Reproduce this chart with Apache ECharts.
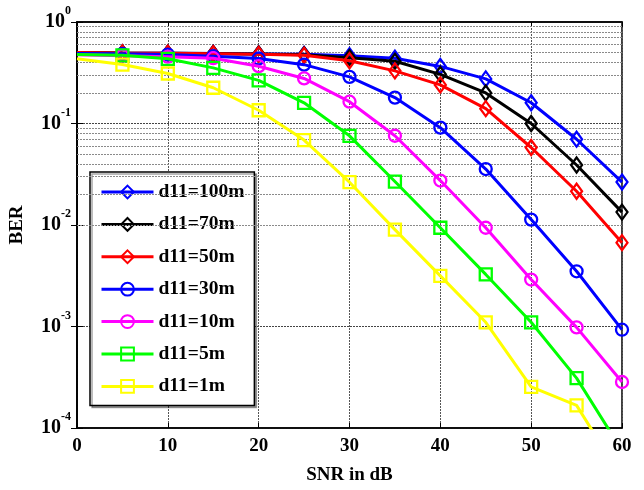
<!DOCTYPE html>
<html>
<head>
<meta charset="utf-8">
<script src="https://cdn.jsdelivr.net/npm/echarts@6/dist/echarts.min.js"></script>
<style>html,body{margin:0;padding:0;background:#fff}#c{width:644px;height:490px}</style>
</head>
<body>
<div id="c"></div>
<script>
// ---- data ----
const snr = [0, 5, 10, 15, 20, 25, 30, 35, 40, 45, 50, 55, 60];
const seriesNames = ['d11=100m', 'd11=70m', 'd11=50m', 'd11=30m', 'd11=10m', 'd11=5m', 'd11=1m'];
const ber100 = [0.5, 0.495, 0.493, 0.49, 0.485, 0.48, 0.465, 0.44, 0.365, 0.275, 0.16, 0.07, 0.0265];
const ber70  = [0.5, 0.495, 0.493, 0.49, 0.485, 0.475, 0.445, 0.41, 0.305, 0.2, 0.1, 0.039, 0.0134];
const ber50  = [0.5, 0.495, 0.493, 0.488, 0.48, 0.47, 0.415, 0.33, 0.24, 0.14, 0.058, 0.0215, 0.0067];
const ber30  = [0.49, 0.486, 0.478, 0.46, 0.437, 0.38, 0.288, 0.18, 0.091, 0.0356, 0.0113, 0.0035, 0.00093];
const ber10  = [0.475, 0.465, 0.455, 0.44, 0.367, 0.278, 0.164, 0.0757, 0.0274, 0.0094, 0.0029, 0.00098, 0.000284];
const ber5   = [0.478, 0.47, 0.434, 0.353, 0.266, 0.16, 0.0756, 0.0268, 0.0094, 0.00326, 0.0011, 0.00031, 0.00006];
const ber1   = [0.434, 0.381, 0.311, 0.225, 0.135, 0.0686, 0.0264, 0.009, 0.00315, 0.0011, 0.000254, 0.000167, 0.000032];
const xTicks = [0, 10, 20, 30, 40, 50, 60];
const yDecades = [1e-4, 1e-3, 1e-2, 1e-1, 1];
const minorMult = [2, 3, 4, 5, 6, 7, 8, 9];

// ---- styles ----
const colors = ['#0000ff', '#000000', '#ff0000', '#0000ff', '#ff00ff', '#00ff00', '#ffff00'];
const symbols = ['diamond', 'diamond', 'diamond', 'circle', 'circle', 'rect', 'rect'];
const sizes = [[11, 15], [11, 15], [11, 15], 12, 12, 12, 12];
const allBer = [ber100, ber70, ber50, ber30, ber10, ber5, ber1];
const FONT = '"Liberation Serif", "Times New Roman", serif';

const minorLines = [];
yDecades.slice(0, -1).forEach(d => minorMult.forEach(m => minorLines.push({ yAxis: d * m })));

const series = allBer.map((vals, k) => {
  const s = {
    name: seriesNames[k],
    type: 'line',
    xAxisIndex: 0, yAxisIndex: 0,
    data: snr.map((x, i) => i === 0 ? { value: [x, vals[i]], symbol: 'none' } : [x, vals[i]]),
    symbol: symbols[k],
    symbolSize: sizes[k],
    showSymbol: true,
    clip: true,
    lineStyle: { color: colors[k], width: 3 },
    itemStyle: { color: 'rgba(255,255,255,0)', borderColor: colors[k], borderWidth: 2.3 },
    emphasis: { disabled: true },
    z: 10 + k,
    animation: false
  };
  if (k === 0) {
    s.markLine = {
      silent: true, symbol: 'none', animation: false,
      label: { show: false },
      lineStyle: { color: '#8a8a8a', type: [2, 1], width: 1 },
      emphasis: { disabled: true },
      data: minorLines
    };
  }
  return s;
});

const chart = echarts.init(document.getElementById('c'), null, { renderer: 'canvas' });
const yLabelFmt = v => {
  const e = Math.round(Math.log10(v));
  return '{b|10}{e|' + e + '}';
};
chart.setOption({
  animation: false,
  backgroundColor: '#ffffff',
  grid: { left: 76, right: 22, top: 22, bottom: 60, show: true, borderColor: '#000', borderWidth: 1.5, backgroundColor: 'transparent' },
  legend: {
    data: seriesNames,
    orient: 'vertical',
    left: 90, top: 172,
    padding: [10, 10, 9, 10],
    itemWidth: 52, itemHeight: 16, itemGap: 12.4,
    backgroundColor: '#fff',
    borderColor: '#000', borderWidth: 1.5, borderRadius: 0,
    shadowColor: 'rgba(0,0,0,0.35)', shadowOffsetX: 2, shadowOffsetY: 2, shadowBlur: 0,
    lineStyle: { width: 3 },
    textStyle: { fontFamily: FONT, fontWeight: 'bold', fontSize: 19.5, color: '#000', lineHeight: 20 },
    selectedMode: false
  },
  xAxis: [{
    type: 'value', min: 0, max: 60, interval: 10,
    position: 'bottom',
    name: 'SNR in dB', nameLocation: 'middle', nameGap: 38,
    nameTextStyle: { fontFamily: FONT, fontWeight: 'bold', fontSize: 19, color: '#000' },
    axisLine: { show: true, lineStyle: { color: '#000', width: 1.5 } },
    axisTick: { show: true, inside: true, length: 5, lineStyle: { color: '#000' } },
    axisLabel: { fontFamily: FONT, fontWeight: 'bold', fontSize: 19, color: '#000', margin: 9 },
    splitLine: { show: true, lineStyle: { color: '#555', type: [2, 1], width: 1 } }
  }, {
    type: 'value', min: 0, max: 60, interval: 10,
    position: 'top',
    axisLine: { show: true, lineStyle: { color: '#000', width: 1.5 } },
    axisTick: { show: true, inside: true, length: 5, lineStyle: { color: '#000' } },
    axisLabel: { show: false },
    splitLine: { show: false }
  }],
  yAxis: [{
    type: 'log', logBase: 10, min: 1e-4, max: 1, splitNumber: 4,
    position: 'left',
    name: 'BER', nameLocation: 'middle', nameGap: 50, nameRotate: 90,
    nameTextStyle: { fontFamily: FONT, fontWeight: 'bold', fontSize: 19, color: '#000' },
    axisLine: { show: true, lineStyle: { color: '#000', width: 1.5 } },
    axisTick: { show: true, inside: true, length: 6, lineStyle: { color: '#000' } },
    axisLabel: {
      margin: 6, formatter: yLabelFmt,
      rich: {
        b: { fontFamily: FONT, fontWeight: 'bold', fontSize: 20, color: '#000', lineHeight: 34 },
        e: { fontFamily: FONT, fontWeight: 'bold', fontSize: 12, color: '#000', lineHeight: 12, verticalAlign: 'top' }
      }
    },
    splitLine: { show: true, lineStyle: { color: '#444', type: [2, 1], width: 1 } }
  }, {
    type: 'log', logBase: 10, min: 1e-4, max: 1, splitNumber: 4,
    position: 'right',
    axisLine: { show: true, lineStyle: { color: '#000', width: 1.5 } },
    axisTick: { show: true, inside: true, length: 6, lineStyle: { color: '#000' } },
    axisLabel: { show: false },
    splitLine: { show: false }
  }],
  series: series
});
</script>
</body>
</html>
